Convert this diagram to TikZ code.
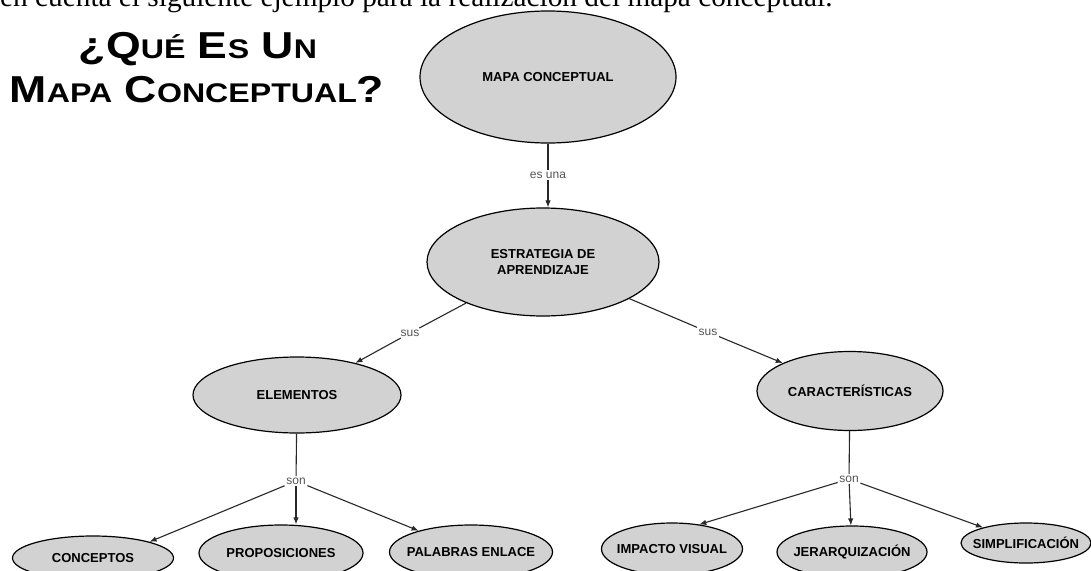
\documentclass[tikz,border=0pt]{standalone}
\usepackage{fontspec}
\setmainfont{Liberation Sans}
\newfontfamily\seriffont{Liberation Serif}
\usetikzlibrary{shapes.geometric,arrows.meta}
\definecolor{nodefill}{RGB}{210,210,210}
\definecolor{linkgray}{RGB}{85,85,85}
\definecolor{connline}{RGB}{40,40,40}
\newcommand\TitBig[1]{{\fontsize{37.5}{40}\selectfont #1}}
\newcommand\TitSm[1]{{\fontsize{27}{30}\selectfont #1}}
\begin{document}
\begin{tikzpicture}[x=1pt,y=-1pt,
  concept/.style={ellipse, draw=black, line width=1.2pt, fill=nodefill,
    inner xsep=-22pt, inner ysep=0pt, align=center,
    font=\bfseries\fontsize{13}{15.5}\selectfont},
  linklabel/.style={font=\fontsize{12}{13}\selectfont, text=linkgray, inner sep=1.5pt},
  conn/.style={draw=connline, line width=1.1pt},
  arr/.style={conn, -{Latex[length=7pt,width=5.5pt]}},
  titletext/.style={anchor=base, inner sep=0pt, font=\bfseries\fontsize{37.5}{40}\selectfont}
]
\path[use as bounding box] (0,0) rectangle (1091,570);
\clip (0,0) rectangle (1091,570);
\fill[white] (0,0) rectangle (1091,570);

% header sentence (cut at the top)
\node[anchor=base west, inner sep=0pt, font=\seriffont\fontsize{29.3}{30}\selectfont] (hdr) at (0,6)
  {en cuenta el siguiente ejemplo para la realización del mapa conceptual.};

% title
\node[titletext] (t1) at (198,58) {\scalebox{1.19}[1]{\TitBig{¿Q}\TitSm{UÉ} \TitBig{E}\TitSm{S} \TitBig{U}\TitSm{N}}};
\node[titletext] (t2) at (197,102) {\scalebox{1.19}[1]{\TitBig{M}\TitSm{APA} \TitBig{C}\TitSm{ONCEPTUAL}\TitBig{?}}};

% concepts
\node[concept, minimum width=256pt, minimum height=132pt] (mapa) at (548,77) {MAPA CONCEPTUAL};
\node[concept, minimum width=232pt, minimum height=108pt] (estr) at (543,262) {ESTRATEGIA DE\\APRENDIZAJE};
\node[concept, minimum width=208pt, minimum height=76pt] (elem) at (297,395) {ELEMENTOS};
\node[concept, minimum width=186pt, minimum height=79pt] (carac) at (850,391) {CARACTERÍSTICAS};
\node[concept, minimum width=161pt, minimum height=44pt] (conc) at (93,558) {CONCEPTOS};
\node[concept, minimum width=164pt, minimum height=56pt] (prop) at (281,553) {PROPOSICIONES};
\node[concept, minimum width=163pt, minimum height=54pt] (pal) at (471,552) {PALABRAS ENLACE};
\node[concept, minimum width=141pt, minimum height=52pt] (imp) at (672,549) {IMPACTO VISUAL};
\node[concept, minimum width=150pt, minimum height=52pt] (jer) at (852,552) {JERARQUIZACIÓN};
\node[concept, minimum width=130pt, minimum height=40pt] (simp) at (1026,543) {SIMPLIFICACIÓN};

% linking phrases
\node[linklabel] (esuna) at (548,175) {es una};
\node[linklabel] (sus1) at (410,333) {sus};
\node[linklabel] (sus2) at (708,332) {sus};
\node[linklabel] (son1) at (296,481) {son};
\node[linklabel] (son2) at (849,479) {son};

% connectors
\draw[conn] (mapa) -- (esuna);
\draw[arr] (esuna) -- (esuna |- estr.north);
\draw[conn] (estr) -- (sus1);
\draw[arr] (sus1) -- (elem);
\draw[conn] (estr) -- (sus2);
\draw[arr] (sus2) -- (carac);
\draw[conn] (elem) -- (son1);
\draw[arr] (son1) -- (conc.16);
\draw[arr] (son1) -- (son1 |- prop.north);
\draw[arr] (son1) -- (pal);
\draw[conn] (carac) -- (son2);
\draw[arr] (son2) -- (imp.42);
\draw[arr] (son2) -- (jer);
\draw[arr] (son2) -- (simp);
\end{tikzpicture}
\end{document}
